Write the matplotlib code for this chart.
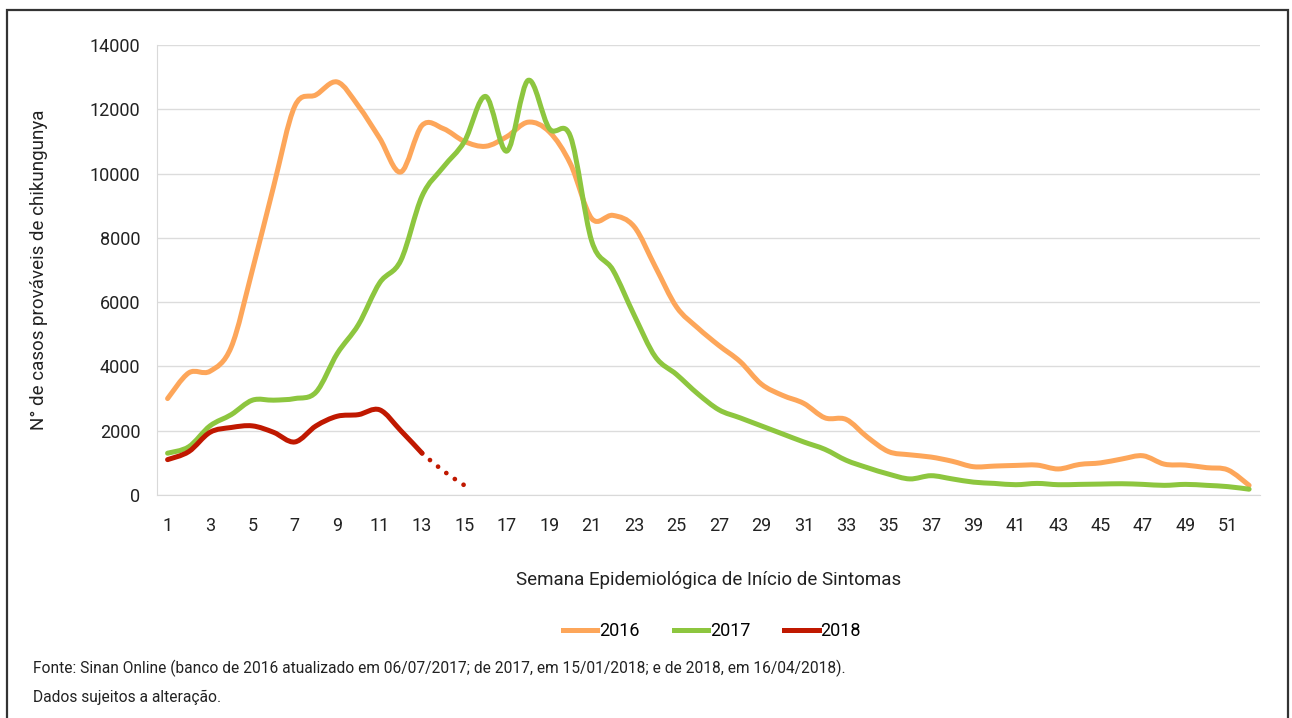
import numpy as np
import matplotlib.pyplot as plt
from matplotlib.path import Path
from matplotlib.patches import PathPatch, Rectangle
from matplotlib.lines import Line2D

plt.rcParams['font.family'] = ['Roboto', 'DejaVu Sans']

weeks = np.arange(1, 53)

cases_2016 = [3000, 3800, 3850, 4600, 7000, 9600, 12100, 12450, 12850, 12100,
              11100, 10050, 11500, 11400, 11000, 10850, 11150, 11600, 11300, 10300,
              8600, 8700, 8350, 7100, 5850, 5200, 4650, 4150, 3450, 3100,
              2850, 2400, 2350, 1800, 1350, 1250, 1180, 1050, 880, 900,
              920, 930, 810, 950, 1000, 1120, 1220, 960, 930, 850,
              780, 300]

cases_2017 = [1300, 1500, 2150, 2500, 2950, 2950, 3000, 3200, 4400, 5300,
              6600, 7300, 9300, 10200, 11000, 12400, 10700, 12900, 11400, 11150,
              7900, 7000, 5600, 4300, 3750, 3150, 2650, 2400, 2150, 1900,
              1650, 1420, 1080, 850, 650, 500, 600, 500, 400, 360,
              320, 360, 320, 330, 340, 350, 330, 300, 330, 300,
              260, 180]

# 2018: weeks 1-13 consolidated, 13-15 still incomplete (dotted)
cases_2018 = [1100, 1350, 1950, 2100, 2150, 1950, 1650, 2150, 2450, 2500,
              2650, 2000, 1300]
weeks_2018_tail = [13, 14, 15]
cases_2018_tail = [1300, 750, 300]

yticks = np.arange(0, 14001, 2000)
xticks = np.arange(1, 52, 2)

c16 = '#FDA65A'
c17 = '#8DC63F'
c18 = '#C01800'


def smooth_path(x, y):
    # cubic bezier through every point (catmull-rom tangents)
    x = np.asarray(x, float)
    y = np.asarray(y, float)
    pts = np.column_stack([x, y])
    n = len(pts)
    verts = [pts[0]]
    codes = [Path.MOVETO]
    for i in range(n - 1):
        p0 = pts[max(i - 1, 0)]
        p1 = pts[i]
        p2 = pts[i + 1]
        p3 = pts[min(i + 2, n - 1)]
        c1 = p1 + (p2 - p0) / 6.0
        c2 = p2 - (p3 - p1) / 6.0
        verts += [c1, c2, p2]
        codes += [Path.CURVE4] * 3
    return Path(verts, codes)


fig = plt.figure(figsize=(12.92, 7.18), dpi=100)
ax = fig.add_axes([0.1215, 0.3106, 0.8535, 0.6267])

for x, y, c in [(weeks, cases_2016, c16), (weeks, cases_2017, c17),
                (weeks[:len(cases_2018)], cases_2018, c18)]:
    p = PathPatch(smooth_path(x, y), fill=False, edgecolor=c, lw=3.6,
                  capstyle='round', joinstyle='round', zorder=3)
    ax.add_patch(p)

tail = PathPatch(smooth_path(weeks_2018_tail, cases_2018_tail), fill=False,
                 edgecolor=c18, lw=3.4, linestyle=(0, (0.01, 2.2)),
                 capstyle='round', zorder=3)
ax.add_patch(tail)

ax.set_xlim(0.5, 52.5)
ax.set_ylim(0, 14000)
ax.set_xticks(xticks)
ax.set_yticks(yticks)
ax.tick_params(length=0, labelsize=13, pad=12, colors='#222222')
ax.tick_params(axis='x', pad=16)
ax.grid(axis='y', color='#dcdcdc', lw=1)
ax.set_axisbelow(True)
for s in ['top', 'right']:
    ax.spines[s].set_visible(False)
for s in ['left', 'bottom']:
    ax.spines[s].set_color('#d9d9d9')

ax.set_ylabel('N° de casos prováveis de chikungunya', fontsize=13.5,
              color='#222222', labelpad=30)
ax.set_xlabel('Semana Epidemiológica de Início de Sintomas', fontsize=13.5,
              color='#222222', labelpad=26)

handles = [Line2D([], [], color=c16, lw=3.6),
           Line2D([], [], color=c17, lw=3.6),
           Line2D([], [], color=c18, lw=3.6)]
fig.legend(handles, ['2016', '2017', '2018'], loc='center',
           bbox_to_anchor=(0.551, 0.121), ncol=3, frameon=False, fontsize=13,
           handlelength=1.9, handletextpad=0.1, columnspacing=1.9)

fig.text(33 / 1292, 1 - 668 / 718,
         'Fonte: Sinan Online (banco de 2016 atualizado em 06/07/2017; de 2017, '
         'em 15/01/2018; e de 2018, em 16/04/2018).',
         fontsize=11.2, color='#222222', va='center')
fig.text(33 / 1292, 1 - 697 / 718, 'Dados sujeitos a alteração.',
         fontsize=11.2, color='#222222', va='center')

# frame around the whole figure
fig.patches.append(Rectangle((7 / 1292, -0.05), 1281 / 1292, 1.05 - 10 / 718,
                             transform=fig.transFigure, fill=False,
                             edgecolor='#333333', lw=1.6))

fig.savefig('out.png', dpi=100)
